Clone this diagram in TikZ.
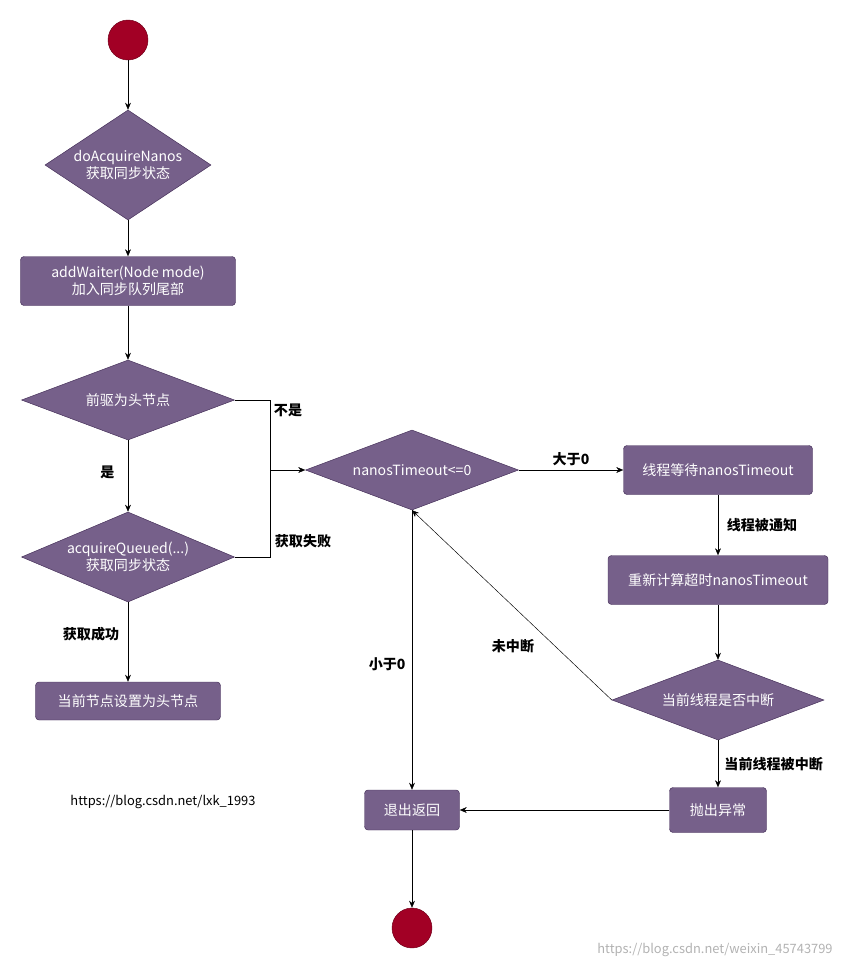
\documentclass[tikz,border=0pt]{standalone}
\usepackage{fontspec}
\setmainfont{Noto Sans CJK SC}
\usetikzlibrary{shapes.geometric,arrows.meta}
\definecolor{pf}{HTML}{76608A}
\definecolor{pd}{HTML}{432D57}
\definecolor{rd}{HTML}{A20025}
\begin{document}
\begin{tikzpicture}[x=0.03cm,y=-0.03cm,
  box/.style={draw=pd,fill=pf,rounded corners=3pt,text=white,font=\fontsize{12}{14}\selectfont,align=center,inner sep=0pt},
  dia/.style={draw=pd,fill=pf,diamond,aspect=2,text=white,font=\fontsize{12}{14}\selectfont,align=center,inner sep=0pt},
  dot/.style={circle,draw=rd!70!black,fill=rd,minimum size=1.2cm,inner sep=0pt},
  lab/.style={font=\bfseries\fontsize{12}{14}\selectfont},
  arr/.style={-{Stealth[length=6pt,width=5pt]},black}]
\useasboundingbox (0,0) rectangle (859,969);
\node[dot] (s) at (128,40) {};
\node[dia,minimum width=4.86cm,minimum height=3.3cm] (d1) at (128,165) {doAcquireNanos\\获取同步状态};
\node[box,minimum width=6.45cm,minimum height=1.47cm] (r1) at (128,281) {addWaiter(Node mode)\\加入同步队列尾部};
\node[dia,minimum width=6.39cm,minimum height=2.4cm] (d2) at (128,400) {前驱为头节点};
\node[dia,minimum width=6.39cm,minimum height=2.55cm] (d3) at (128,557) {acquireQueued(...)\\获取同步状态};
\node[box,minimum width=5.55cm,minimum height=1.14cm] (r2) at (128,701) {当前节点设置为头节点};
\node[font=\fontsize{11}{13}\selectfont] (u) at (163,802) {https://blog.csdn.net/lxk\_1993};
\node[dia,minimum width=6.39cm,minimum height=2.4cm] (n) at (412,470) {nanosTimeout<=0};
\node[box,minimum width=5.67cm,minimum height=1.47cm] (w) at (718,470) {线程等待nanosTimeout};
\node[box,minimum width=6.6cm,minimum height=1.47cm] (c) at (718,580) {重新计算超时nanosTimeout};
\node[dia,minimum width=6.36cm,minimum height=2.4cm] (i) at (718,700) {当前线程是否中断};
\node[box,minimum width=2.91cm,minimum height=1.35cm] (e) at (718,810) {抛出异常};
\node[box,minimum width=2.85cm,minimum height=1.2cm] (x) at (412,810) {退出返回};
\node[dot] (t) at (412,928) {};
\node[text=gray!60,font=\fontsize{11}{13}\selectfont] (wm) at (715,950) {https://blog.csdn.net/weixin\_45743799};
\coordinate (j) at (270,470);
\draw[arr] (s) -- (d1);
\draw[arr] (d1) -- (r1);
\draw[arr] (r1) -- (d2);
\draw[arr] (d2) -- node[lab,pos=0.45,left=8pt]{是} (d3);
\draw[arr] (d3) -- node[lab,pos=0.4,left=4pt]{获取成功} (r2);
\draw (d2.east) -| (j);
\draw (d3.east) -| (j);
\draw[arr] (j) -- (n.west);
\node[lab] at (288,410) {不是};
\node[lab] at (303,541) {获取失败};
\draw[arr] (n) -- node[lab,above]{大于0} (w);
\draw[arr] (w) -- node[lab,right=4pt]{线程被通知} (c);
\draw[arr] (c) -- (i);
\draw[arr] (i) -- node[lab,right=2pt]{当前线程被中断} (e);
\draw[arr] (i.west) -- (n.south);
\node[lab] at (513,646) {未中断};
\draw[arr] (n.south) -- node[lab,pos=0.55,left=2pt]{小于0} (x);
\draw[arr] (e) -- (x);
\draw[arr] (x) -- (t);
\end{tikzpicture}
\end{document}
